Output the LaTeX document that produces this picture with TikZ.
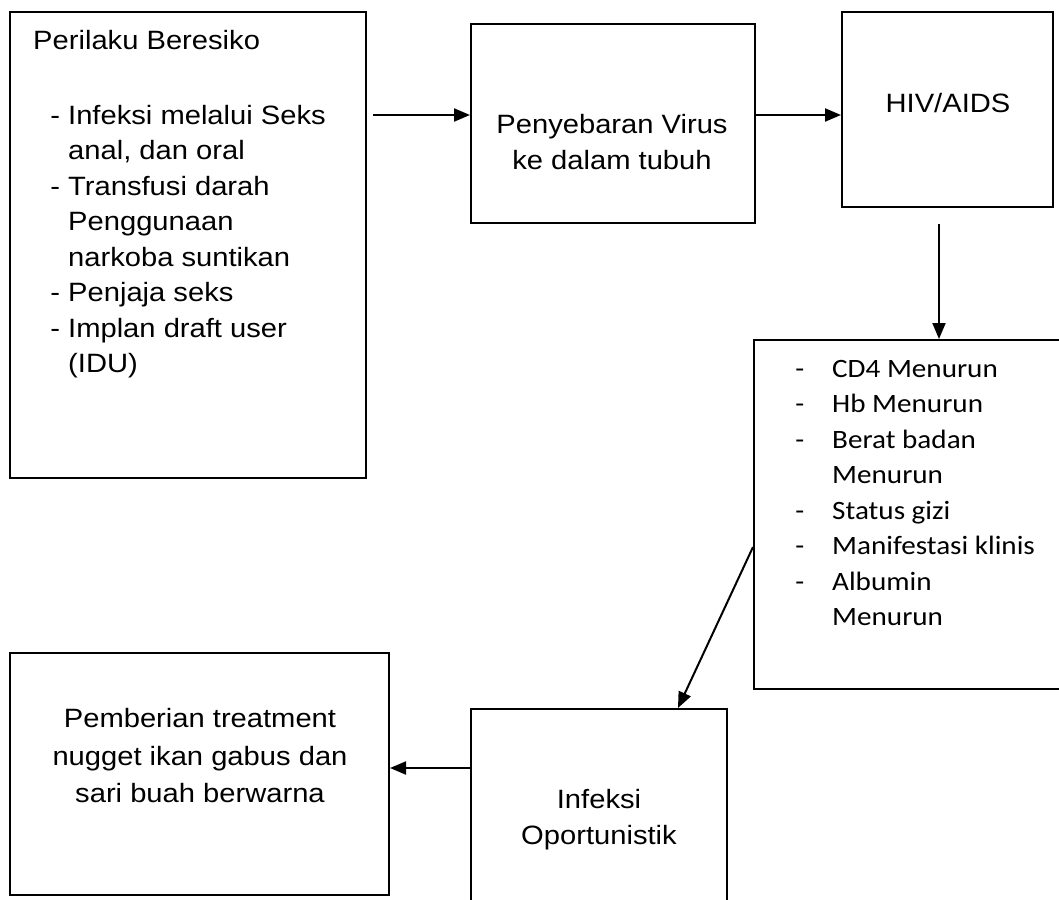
\documentclass[tikz,border=0pt]{standalone}
\usepackage{fontspec}
\setmainfont{Liberation Sans}[FakeStretch=1.1]
\newfontfamily\calibrifont{Carlito}[FakeStretch=1.1]
\usepackage{tikz}
\usepackage{xcolor}
\usetikzlibrary{arrows.meta, positioning, calc}
\tikzset{
	box/.style      ={rectangle, draw=black, line width=2pt, inner sep=0pt},
	txt/.style      ={inner sep=0pt, font=\fontsize{26.5}{36}\selectfont},
	listtxt/.style  ={inner sep=0pt, align=left, anchor=north west},
	flow/.style     ={-{Triangle[length=16pt, width=13pt]}, line width=2pt},
}

\begin{document}
\begin{tikzpicture}[x=1pt, y=-1pt]
	\useasboundingbox (0,0) rectangle (1059,899);
	\clip (0,0) rectangle (1059,899);
	\node[box, minimum width=356pt, minimum height=466pt] (beh) at (188,245) {};
	\node[box, minimum width=284pt, minimum height=199pt] (pv) at (613,123.5) {};
	\node[box, minimum width=211pt, minimum height=195pt] (hiv) at (947.5,109.5) {};
	\node[box, minimum width=321pt, minimum height=349pt] (cd) at (914.5,514.5) {};
	\node[box, minimum width=379pt, minimum height=242pt] (pem) at (199.5,774) {};
	\node[box, minimum width=256pt, minimum height=206pt] (inf) at (599,812) {};

	\node[txt, anchor=base west] (ttl) at (33,50) {Perilaku Beresiko};
	\node[txt, listtxt, font=\fontsize{26.5}{35.5}\selectfont] (rsk) at (68,105) {\llap{- }Infeksi melalui Seks\\anal, dan oral\\\llap{- }Transfusi darah\\Penggunaan\\narkoba suntikan\\\llap{- }Penjaja seks\\\llap{- }Implan draft user\\(IDU)};
	\node[txt, align=center] (pvt) at (612,142) {Penyebaran Virus\\ke dalam tubuh};
	\node[txt] (hivt) at (948,103) {HIV/AIDS};
	\node[txt, listtxt, font=\fontsize{26.5}{35.5}\selectfont\calibrifont] (sym) at (832,360) {\llap{-\hspace{28pt}}CD4 Menurun\\\llap{-\hspace{28pt}}Hb Menurun\\\llap{-\hspace{28pt}}Berat badan\\Menurun\\\llap{-\hspace{28pt}}Status gizi\\\llap{-\hspace{28pt}}Manifestasi klinis\\\llap{-\hspace{28pt}}Albumin\\Menurun};
	\node[txt, align=center, font=\fontsize{26.5}{37.5}\selectfont] (pemt) at (200,756) {Pemberian treatment\\nugget ikan gabus dan\\sari buah berwarna};
	\node[txt, align=center] (inft) at (599,820) {Infeksi\\Oportunistik};

	\draw[flow] ($(beh.east |- pv.west)+(6,-8.5)$) -- ($(pv.west)+(0,-8.5)$);
	\draw[flow] ($(pv.east)+(0,-8.5)$) -- ($(pv.east -| hiv.west)+(0,-8.5)$);
	\draw[flow] ($(hiv.south)+(-8.5,16)$) -- ($(hiv.south |- cd.north)+(-8.5,0)$);
	\draw[flow] ($(cd.west)+(0,32.5)$) -- ($(inf.north)+(79,0)$);
	\draw[flow] ($(pem.east -| inf.west)+(0,-6)$) -- ($(pem.east)+(0,-6)$);
\end{tikzpicture}
\end{document}
